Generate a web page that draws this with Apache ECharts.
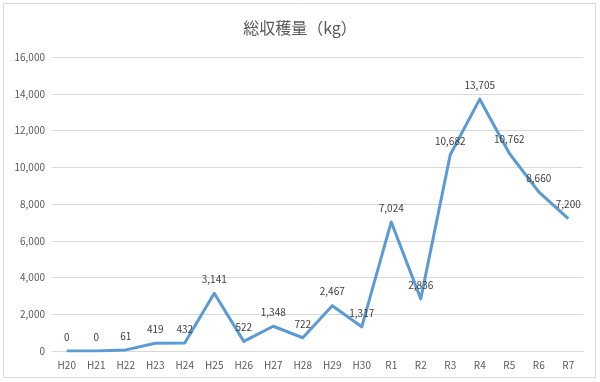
<!DOCTYPE html>
<html><head><meta charset="utf-8">
<script src="https://cdn.jsdelivr.net/npm/echarts@6/dist/echarts.min.js"></script>
<style>html,body{margin:0;padding:0;background:#fff}#c{width:600px;height:382px}</style>
</head><body><div id="c"></div>
<script>
const categories = ['H20','H21','H22','H23','H24','H25','H26','H27','H28','H29','H30','R1','R2','R3','R4','R5','R6','R7'];
const harvest = [0,0,61,419,432,3141,522,1348,722,2467,1317,7024,2836,10682,13705,10762,8660,7200];
const titleText = '総収穫量（kg）';
const chart = echarts.init(document.getElementById('c'));
const font = '"Noto Sans CJK JP", "Noto Sans", sans-serif';
chart.setOption({
  animation: false,
  backgroundColor: '#fff',
  graphic: [{type:'rect', shape:{x:3.5,y:3.5,width:592,height:374}, style:{fill:'none', stroke:'#d9d9d9', lineWidth:1}}],
  title: {text: titleText, left: 'center', top: 15, textStyle:{fontFamily: font, fontSize: 16, fontWeight: 'normal', color:'#595959'}},
  grid: {left: 52, top: 57, width: 531, height: 294},
  xAxis: {type:'category', data: categories, boundaryGap: true,
    axisLine:{lineStyle:{color:'#d9d9d9'}}, axisTick:{show:false},
    axisLabel:{color:'#595959', fontSize:10, fontFamily: font, margin:9}},
  yAxis: {type:'value', min:0, max:16000, interval:2000,
    axisLine:{show:false}, axisTick:{show:false},
    splitLine:{lineStyle:{color:'#d9d9d9'}},
    axisLabel:{color:'#595959', fontSize:10, fontFamily: font, margin:7,
      formatter: v => v.toLocaleString('en-US')}},
  series: [{type:'line', data: harvest, symbol:'circle', symbolSize:2, showSymbol:true, smooth:false,
    itemStyle:{color:'rgba(91,155,213,0)'},
    lineStyle:{color:'#5b9bd5', width:3, join:'round'},
    labelLayout:{hideOverlap:false},
    label:{show:true, position:'top', distance:8, color:'#404040', fontSize:10, fontFamily: font,
      formatter: p => p.value.toLocaleString('en-US')}}]
});
</script></body></html>
